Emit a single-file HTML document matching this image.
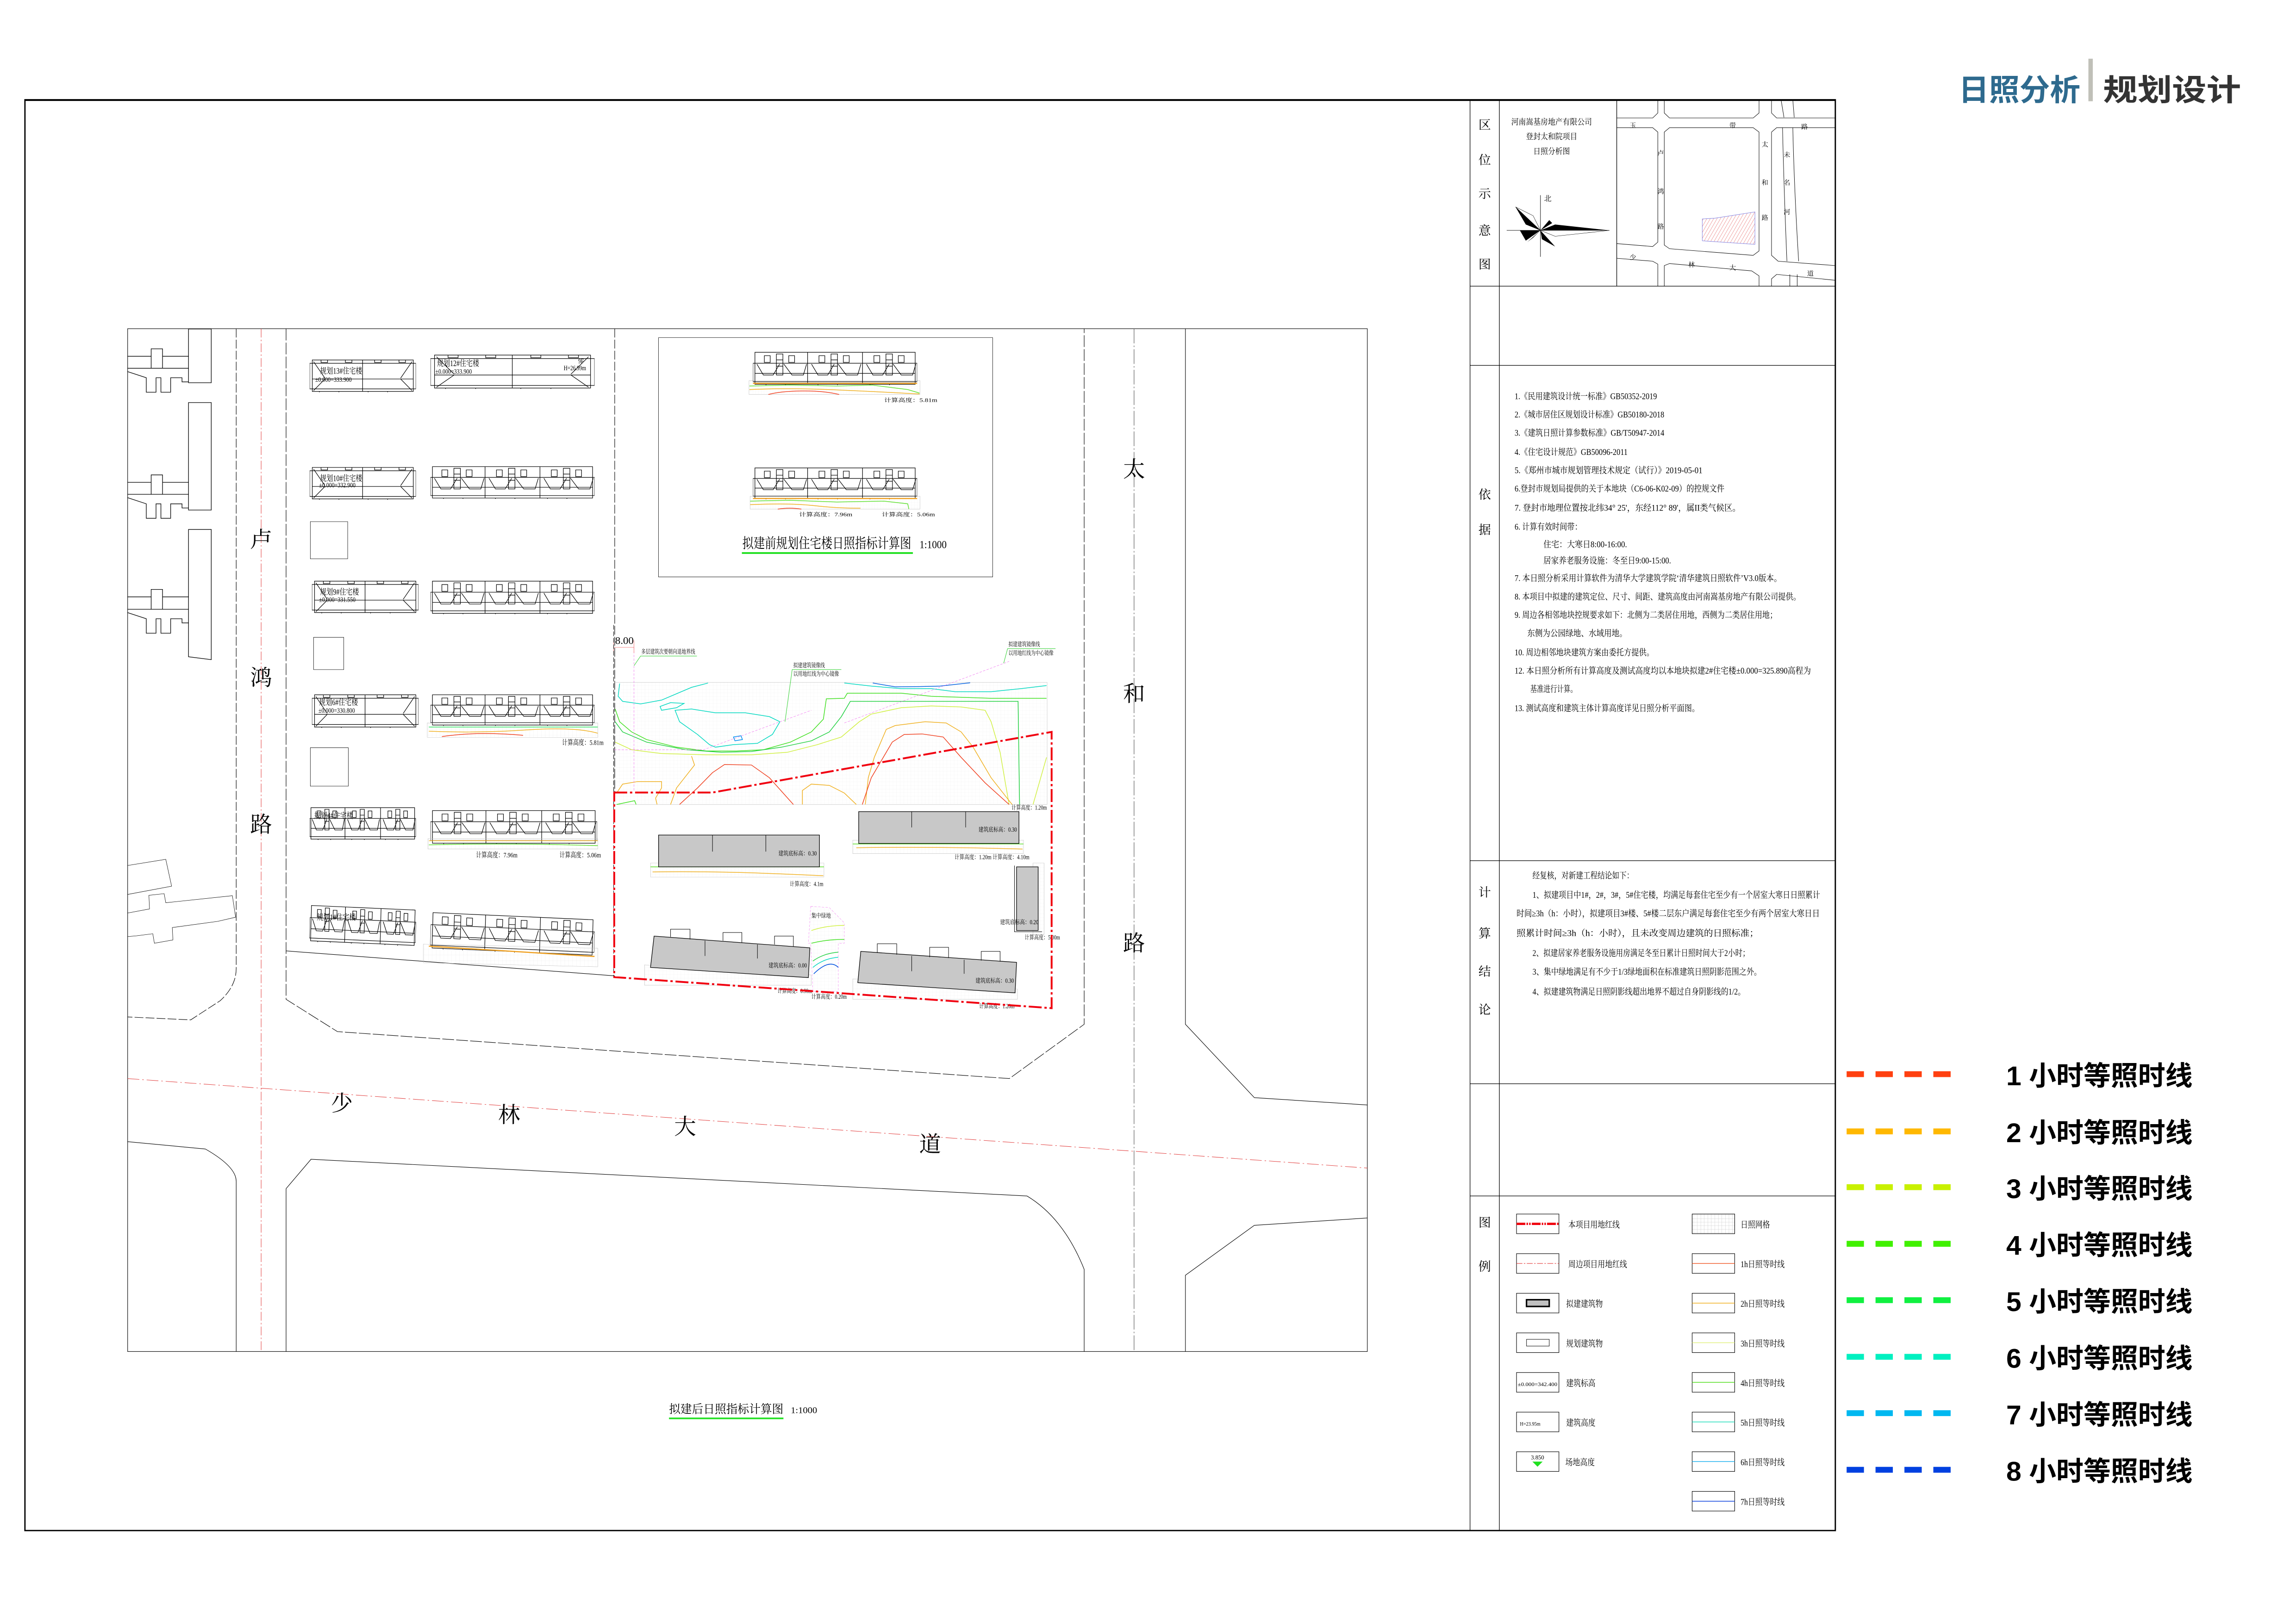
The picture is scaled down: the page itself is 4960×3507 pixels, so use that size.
<!DOCTYPE html>
<html><head><meta charset="utf-8">
<style>
html,body{margin:0;padding:0;background:#fff;}
svg{display:block;}
.s{font-family:"Liberation Serif","Noto Serif CJK SC",serif;}
.b{font-family:"Liberation Sans","Noto Sans CJK SC",sans-serif;font-weight:bold;}
</style></head>
<body>
<svg width="4960" height="3507" viewBox="0 0 1565 1106" preserveAspectRatio="none" xmlns="http://www.w3.org/2000/svg">
<defs>
<pattern id="g" patternUnits="userSpaceOnUse" width="2.4" height="2.4">
<path d="M0 0H2.4M0 0V2.4" stroke="#c8c8c8" stroke-width="0.3" fill="none"/>
</pattern>
<pattern id="gz" patternUnits="userSpaceOnUse" width="12" height="14">
<path d="M0 0H12M0 0V14" stroke="#c8c8c8" stroke-width="1" fill="none" vector-effect="non-scaling-stroke"/>
</pattern>
<pattern id="hatch" patternUnits="userSpaceOnUse" width="2" height="2" patternTransform="rotate(30)"><line x1="0" y1="0" x2="0" y2="2" stroke="#e04040" stroke-width="0.3"/></pattern>
<symbol id="fb" viewBox="0 0 505 80" preserveAspectRatio="none">
<g fill="none" stroke="#000" stroke-width="1.2" vector-effect="non-scaling-stroke">
<rect x="6" y="2" width="493" height="76" vector-effect="non-scaling-stroke"/>
<rect x="0" y="28" width="505" height="44" vector-effect="non-scaling-stroke"/>
<path d="M168 2V78M337 2V78M6 52H499" vector-effect="non-scaling-stroke"/>
<path d="M35 10h18v16h-18zM110 10h18v16h-18zM72 6h20v50h-20zM72 20h20M72 35h20M12 30l20 26h30l20-26M95 30l25 26h35l10-26" vector-effect="non-scaling-stroke"/>
<path d="M203 10h18v16h-18zM278 10h18v16h-18zM240 6h20v50h-20zM240 20h20M240 35h20M180 30l20 26h30l20-26M262 30l25 26h35l10-26" vector-effect="non-scaling-stroke"/>
<path d="M372 10h18v16h-18zM447 10h18v16h-18zM409 6h20v50h-20zM409 20h20M409 35h20M349 30l20 26h30l20-26M431 30l25 26h35l10-26" vector-effect="non-scaling-stroke"/>
<path d="M40 78v5h60v-5M200 78v5h60v-5M360 78v5h60v-5" vector-effect="non-scaling-stroke"/>
</g></symbol>
<symbol id="sb" viewBox="0 0 327 80" preserveAspectRatio="none">
<g fill="none" stroke="#000" stroke-width="1.2">
<rect x="0" y="10" width="327" height="62" vector-effect="non-scaling-stroke"/>
<rect x="8" y="2" width="311" height="76" vector-effect="non-scaling-stroke"/>
<path d="M163 2V78M8 48H319M12 6l35 40M315 6l-35 40M12 76l35-28M315 76l-35-28M35 2v6h20v-6M110 2v6h20v-6M200 2v6h20v-6M275 2v6h20v-6" vector-effect="non-scaling-stroke"/>
<path d="M30 78v5h60v-5M180 78v5h60v-5" vector-effect="non-scaling-stroke"/>
</g></symbol>
</defs>

<!-- Title -->
<text x="1335" y="68.5" class="b" font-size="20.5" fill="#2e6a8e" textLength="83" lengthAdjust="spacingAndGlyphs">日照分析</text>
<rect x="1423.5" y="40" width="3" height="29" fill="#c0c0b8"/>
<text x="1433.5" y="68.5" class="b" font-size="20.5" fill="#333" textLength="94" lengthAdjust="spacingAndGlyphs">规划设计</text>

<!-- Frame -->
<rect x="17" y="68" width="1234" height="975" fill="none" stroke="#000" stroke-width="0.9"/>
<line x1="17" y1="68.2" x2="1251" y2="68.2" stroke="#000" stroke-width="1.2"/>
<line x1="1002" y1="68" x2="1002" y2="1043" stroke="#000" stroke-width="0.4"/>
<line x1="1022" y1="68" x2="1022" y2="1043" stroke="#000" stroke-width="0.4"/>
<g stroke="#000" stroke-width="0.4">
<line x1="1002" y1="195" x2="1251" y2="195"/>
<line x1="1002" y1="249" x2="1251" y2="249"/>
<line x1="1002" y1="586.5" x2="1251" y2="586.5"/>
<line x1="1002" y1="738.5" x2="1251" y2="738.5"/>
<line x1="1002" y1="815" x2="1251" y2="815"/>
<line x1="1102" y1="68" x2="1102" y2="195"/>
</g>

<!-- Panel side labels -->
<g class="s" font-size="8.5" fill="#000" text-anchor="middle">
<text x="1012" y="88">区</text><text x="1012" y="112">位</text><text x="1012" y="135">示</text><text x="1012" y="160">意</text><text x="1012" y="183">图</text>
<text x="1012" y="340">依</text><text x="1012" y="364">据</text>
<text x="1012" y="611">计</text><text x="1012" y="639">算</text><text x="1012" y="665">结</text><text x="1012" y="691">论</text>
<text x="1012" y="836">图</text><text x="1012" y="866">例</text>
</g>

<!-- Location info -->
<g class="s" font-size="5.6" fill="#000" text-anchor="middle">
<text x="1057.6" y="85" textLength="55" lengthAdjust="spacingAndGlyphs">河南嵩基房地产有限公司</text>
<text x="1057.6" y="95" textLength="35" lengthAdjust="spacingAndGlyphs">登封太和院项目</text>
<text x="1057.6" y="105" textLength="25" lengthAdjust="spacingAndGlyphs">日照分析图</text>
<text x="1055" y="137" font-size="5">北</text>
</g>
<g>
<line x1="1050" y1="133" x2="1050" y2="175" stroke="#000" stroke-width="0.3"/>
<line x1="1027" y1="157" x2="1097" y2="157" stroke="#000" stroke-width="0.3"/>
<polygon points="1050,157 1033,141 1040,153" fill="#000"/>
<polygon points="1050,157 1033,141 1045,147" fill="#fff" stroke="#000" stroke-width="0.2"/>
<polygon points="1050,157 1097,157 1060,153" fill="#000"/>
<polygon points="1050,157 1097,157 1060,161" fill="#fff" stroke="#000" stroke-width="0.2"/>
<polygon points="1050,157 1060,168 1051,163" fill="#000"/>
<polygon points="1050,157 1040,164 1036,157" fill="#000"/>
<polygon points="1050,157 1056,150 1058,152" fill="#000"/>
<polygon points="1050,157 1041,165 1045,162" fill="#000"/>
</g>
<!-- Location map -->
<g fill="none" stroke="#000" stroke-width="0.3">
<path d="M1102 80.4H1126.5L1130 77V68M1134.4 68V77L1138 80.4H1195L1199 77V68M1207.5 68V77L1211 80.4H1251"/>
<path d="M1102 87H1126.5L1130 90V165L1126.5 168L1102 166"/>
<path d="M1134.4 90L1138 87H1195L1199 90V171L1195 174L1138 169.5L1134.4 167Z"/>
<path d="M1102 176L1126.5 178L1130 180V195M1134.4 195V181L1138 179.6L1194 184.6L1199 188V195"/>
<path d="M1207.5 90L1211 87H1251M1207.5 90V174L1212 178L1251 181M1207.5 195V190L1211 187L1251 191"/>
<path d="M1214 68L1216 80M1222 68L1223 80M1215 87Q1216 130 1218 178M1222 87Q1223 130 1226 178M1220 187V195M1225 187V195"/>
</g>
<polygon points="1160.3,149.2 1168.9,148.7 1196.2,144.4 1196.2,166.5 1160.3,164.1" fill="url(#hatch)" stroke="#8080e0" stroke-width="0.3"/>
<g class="s" font-size="4.5" fill="#000" text-anchor="middle">
<text x="1113" y="87">玉</text><text x="1181" y="87">带</text><text x="1230" y="88">路</text>
<text x="1132" y="106">卢</text><text x="1132" y="132">鸿</text><text x="1132" y="156">路</text>
<text x="1203" y="100">太</text><text x="1203" y="126">和</text><text x="1203" y="150">路</text>
<text x="1218" y="107">未</text><text x="1218" y="126">名</text><text x="1218" y="146">河</text>
<text x="1113" y="177">少</text><text x="1153" y="182">林</text><text x="1181" y="184">大</text><text x="1234" y="188">道</text>
</g>

<!-- 依据 text -->
<g class="s" font-size="6" fill="#000">
<text x="1032.4" y="272" textLength="97" lengthAdjust="spacingAndGlyphs">1.《民用建筑设计统一标准》GB50352-2019</text>
<text x="1032.4" y="284.5" textLength="102" lengthAdjust="spacingAndGlyphs">2.《城市居住区规划设计标准》GB50180-2018</text>
<text x="1032.4" y="297" textLength="102" lengthAdjust="spacingAndGlyphs">3.《建筑日照计算参数标准》GB/T50947-2014</text>
<text x="1032.4" y="310" textLength="77" lengthAdjust="spacingAndGlyphs">4.《住宅设计规范》GB50096-2011</text>
<text x="1032.4" y="322.5" textLength="128" lengthAdjust="spacingAndGlyphs">5.《郑州市城市规划管理技术规定（试行）》2019-05-01</text>
<text x="1032.4" y="335" textLength="143" lengthAdjust="spacingAndGlyphs">6.登封市规划局提供的关于本地块（C6-06-K02-09）的控规文件</text>
<text x="1032.4" y="348" textLength="154" lengthAdjust="spacingAndGlyphs">7. 登封市地理位置按北纬34° 25'，东经112° 89'，属II类气候区。</text>
<text x="1032.4" y="361" textLength="46" lengthAdjust="spacingAndGlyphs">6. 计算有效时间带：</text>
<text x="1052" y="373" textLength="57" lengthAdjust="spacingAndGlyphs">住宅：大寒日8:00-16:00.</text>
<text x="1052" y="384" textLength="87" lengthAdjust="spacingAndGlyphs">居家养老服务设施：冬至日9:00-15:00.</text>
<text x="1032.4" y="396" textLength="182" lengthAdjust="spacingAndGlyphs">7. 本日照分析采用计算软件为清华大学建筑学院‘清华建筑日照软件’V3.0版本。</text>
<text x="1032.4" y="408.5" textLength="195" lengthAdjust="spacingAndGlyphs">8. 本项目中拟建的建筑定位、尺寸、间距、建筑高度由河南嵩基房地产有限公司提供。</text>
<text x="1032.4" y="421" textLength="179" lengthAdjust="spacingAndGlyphs">9. 周边各相邻地块控规要求如下：北侧为二类居住用地，西侧为二类居住用地；</text>
<text x="1041" y="433.5" textLength="68" lengthAdjust="spacingAndGlyphs">东侧为公园绿地、水域用地。</text>
<text x="1032.4" y="446.5" textLength="95" lengthAdjust="spacingAndGlyphs">10. 周边相邻地块建筑方案由委托方提供。</text>
<text x="1032.4" y="459" textLength="202" lengthAdjust="spacingAndGlyphs">12. 本日照分析所有计算高度及测试高度均以本地块拟建2#住宅楼±0.000=325.890高程为</text>
<text x="1043" y="471.5" textLength="32" lengthAdjust="spacingAndGlyphs">基准进行计算。</text>
<text x="1032.4" y="484.5" textLength="126" lengthAdjust="spacingAndGlyphs">13. 测试高度和建筑主体计算高度详见日照分析平面图。</text>
</g>
<!-- 计算结论 text -->
<g class="s" font-size="6" fill="#000">
<text x="1044.6" y="598.5" textLength="69" lengthAdjust="spacingAndGlyphs">经复核，对新建工程结论如下：</text>
<text x="1044.6" y="611.8" textLength="196" lengthAdjust="spacingAndGlyphs">1、拟建项目中1#，2#，3#，5#住宅楼，均满足每套住宅至少有一个居室大寒日日照累计</text>
<text x="1033.7" y="624.5" textLength="206.7" lengthAdjust="spacingAndGlyphs">时间≥3h（h：小时），拟建项目3#楼、5#楼二层东户满足每套住宅至少有两个居室大寒日日</text>
<text x="1033.7" y="637.9" textLength="165" lengthAdjust="spacingAndGlyphs">照累计时间≥3h（h：小时），且未改变周边建筑的日照标准；</text>
<text x="1044.6" y="651.4" textLength="148" lengthAdjust="spacingAndGlyphs">2、拟建居家养老服务设施用房满足冬至日累计日照时间大于2小时；</text>
<text x="1044.6" y="664.2" textLength="156" lengthAdjust="spacingAndGlyphs">3、集中绿地满足有不少于1/3绿地面积在标准建筑日照阴影范围之外。</text>
<text x="1044.6" y="677.8" textLength="145" lengthAdjust="spacingAndGlyphs">4、拟建建筑物满足日照阴影线超出地界不超过自身阴影线的1/2。</text>
</g>

<!-- Panel legend -->
<g fill="#fff" stroke="#000" stroke-width="0.35">
<rect x="1033.7" y="827.3" width="28.9" height="13.4"/>
<rect x="1033.7" y="854.3" width="28.9" height="13.4"/>
<rect x="1033.7" y="881.3" width="28.9" height="13.4"/>
<rect x="1033.7" y="908.3" width="28.9" height="13.4"/>
<rect x="1033.7" y="935.3" width="28.9" height="13.4"/>
<rect x="1033.7" y="962.3" width="28.9" height="13.4"/>
<rect x="1033.7" y="989.3" width="28.9" height="13.4"/>
<rect x="1153.4" y="827.3" width="29" height="13.4" fill="url(#g)"/>
<rect x="1153.4" y="854.3" width="29" height="13.4"/>
<rect x="1153.4" y="881.3" width="29" height="13.4"/>
<rect x="1153.4" y="908.3" width="29" height="13.4"/>
<rect x="1153.4" y="935.3" width="29" height="13.4"/>
<rect x="1153.4" y="962.3" width="29" height="13.4"/>
<rect x="1153.4" y="989.3" width="29" height="13.4"/>
<rect x="1153.4" y="1016.3" width="29" height="13.4"/>
</g>
<line x1="1033.7" y1="834" x2="1062.6" y2="834" stroke="#f00010" stroke-width="1.6" stroke-dasharray="6 0.8 1 0.8 1 0.8"/>
<line x1="1033.7" y1="861" x2="1062.6" y2="861" stroke="#e02020" stroke-width="0.3" stroke-dasharray="4 1 1 1"/>
<rect x="1040.5" y="885.7" width="15.5" height="4.6" fill="#c0c0c0" stroke="#000" stroke-width="1"/>
<rect x="1040.5" y="912.7" width="15.5" height="4.6" fill="#fff" stroke="#000" stroke-width="0.3"/>
<text x="1034.5" y="944.5" class="s" font-size="3.5" textLength="27" lengthAdjust="spacingAndGlyphs">±0.000=342.400</text>
<text x="1036" y="971.5" class="s" font-size="3.5" textLength="14" lengthAdjust="spacingAndGlyphs">H=23.95m</text>
<text x="1048" y="994.5" class="s" font-size="4" text-anchor="middle">3.850</text>
<polygon points="1044.5,996 1051.5,996 1048,999.5" fill="#20e020"/>
<g stroke-width="0.5">
<line x1="1153.4" y1="861" x2="1182.4" y2="861" stroke="#f06030"/>
<line x1="1153.4" y1="888" x2="1182.4" y2="888" stroke="#f0b020"/>
<line x1="1153.4" y1="915" x2="1182.4" y2="915" stroke="#e0f080"/>
<line x1="1153.4" y1="942" x2="1182.4" y2="942" stroke="#60e030"/>
<line x1="1153.4" y1="969" x2="1182.4" y2="969" stroke="#30e0c0"/>
<line x1="1153.4" y1="996" x2="1182.4" y2="996" stroke="#30b8f0"/>
<line x1="1153.4" y1="1023" x2="1182.4" y2="1023" stroke="#2050e0"/>
</g>
<g class="s" font-size="6" fill="#000">
<text x="1069" y="836.5" textLength="35" lengthAdjust="spacingAndGlyphs">本项目用地红线</text>
<text x="1069" y="863.5" textLength="40" lengthAdjust="spacingAndGlyphs">周边项目用地红线</text>
<text x="1067.5" y="890.5" textLength="25" lengthAdjust="spacingAndGlyphs">拟建建筑物</text>
<text x="1067.5" y="917.5" textLength="25" lengthAdjust="spacingAndGlyphs">规划建筑物</text>
<text x="1067.5" y="944.5" textLength="20" lengthAdjust="spacingAndGlyphs">建筑标高</text>
<text x="1067.5" y="971.5" textLength="20" lengthAdjust="spacingAndGlyphs">建筑高度</text>
<text x="1067" y="998.5" textLength="20" lengthAdjust="spacingAndGlyphs">场地高度</text>
<text x="1186.4" y="836.5" textLength="20" lengthAdjust="spacingAndGlyphs">日照网格</text>
<text x="1186.4" y="863.5" textLength="30" lengthAdjust="spacingAndGlyphs">1h日照等时线</text>
<text x="1186.4" y="890.5" textLength="30" lengthAdjust="spacingAndGlyphs">2h日照等时线</text>
<text x="1186.4" y="917.5" textLength="30" lengthAdjust="spacingAndGlyphs">3h日照等时线</text>
<text x="1186.4" y="944.5" textLength="30" lengthAdjust="spacingAndGlyphs">4h日照等时线</text>
<text x="1186.4" y="971.5" textLength="30" lengthAdjust="spacingAndGlyphs">5h日照等时线</text>
<text x="1186.4" y="998.5" textLength="30" lengthAdjust="spacingAndGlyphs">6h日照等时线</text>
<text x="1186.4" y="1025.5" textLength="30" lengthAdjust="spacingAndGlyphs">7h日照等时线</text>
</g>

<!-- Right legend -->
<g stroke-width="4" stroke-dasharray="11.8 7.9">
<line x1="1258.7" y1="732" x2="1335" y2="732" stroke="#ff4010"/>
<line x1="1258.7" y1="771" x2="1335" y2="771" stroke="#ffb800"/>
<line x1="1258.7" y1="809" x2="1335" y2="809" stroke="#c8f000"/>
<line x1="1258.7" y1="847.6" x2="1335" y2="847.6" stroke="#40f000"/>
<line x1="1258.7" y1="886" x2="1335" y2="886" stroke="#10f040"/>
<line x1="1258.7" y1="924.6" x2="1335" y2="924.6" stroke="#00f0c0"/>
<line x1="1258.7" y1="963" x2="1335" y2="963" stroke="#00b8f0"/>
<line x1="1258.7" y1="1001.6" x2="1335" y2="1001.6" stroke="#0040e0"/>
</g>
<g class="b" font-size="18.5" fill="#000">
<text x="1367.5" y="739.5" textLength="127" lengthAdjust="spacingAndGlyphs">1 小时等照时线</text>
<text x="1367.5" y="778.3" textLength="127" lengthAdjust="spacingAndGlyphs">2 小时等照时线</text>
<text x="1367.5" y="816.5" textLength="127" lengthAdjust="spacingAndGlyphs">3 小时等照时线</text>
<text x="1367.5" y="855" textLength="127" lengthAdjust="spacingAndGlyphs">4 小时等照时线</text>
<text x="1367.5" y="893.5" textLength="127" lengthAdjust="spacingAndGlyphs">5 小时等照时线</text>
<text x="1367.5" y="932" textLength="127" lengthAdjust="spacingAndGlyphs">6 小时等照时线</text>
<text x="1367.5" y="970.5" textLength="127" lengthAdjust="spacingAndGlyphs">7 小时等照时线</text>
<text x="1367.5" y="1009" textLength="127" lengthAdjust="spacingAndGlyphs">8 小时等照时线</text>
</g>

<!-- Drawing area -->
<rect x="87" y="224" width="845" height="697" fill="none" stroke="#000" stroke-width="0.35"/>
<g fill="none" stroke="#000" stroke-width="0.35">
<path d="M161 224V660Q161 672 150 682L130 695L87 693" stroke-dasharray="6 1.5"/>
<path d="M87 778L140 783Q161 795 161 805V921"/>
<path d="M195 224V681L230 703L688 735L739 698V224" stroke-dasharray="8 1.5"/>
<path d="M195 921V810L212 790L700 815Q725 830 739 865V921"/>
<path d="M808 224V698L855 748L932 753"/>
<path d="M932 830L855 835L808 869V921"/>
<path d="M419 224V540" stroke-dasharray="6 1.5"/>
<path d="M195 648L419 665"/>
</g>
<line x1="178" y1="224" x2="178" y2="921" stroke="#e03030" stroke-width="0.3" stroke-dasharray="6 1.5 1 1.5"/>
<line x1="773" y1="224" x2="773" y2="921" stroke="#555" stroke-width="0.35" stroke-dasharray="10 1.5 1 1.5"/>
<line x1="87" y1="735" x2="932" y2="796" stroke="#e03030" stroke-width="0.3" stroke-dasharray="8 2 1 2"/>

<g class="s" font-size="15" fill="#000" text-anchor="middle">
<text x="178" y="373">卢</text><text x="178" y="467">鸿</text><text x="178" y="567">路</text>
<text x="773" y="325">太</text><text x="773" y="478">和</text><text x="773" y="648">路</text>
<text x="233" y="757">少</text><text x="347" y="765">林</text><text x="467" y="773">大</text><text x="634" y="785">道</text>
</g>

<!-- Left part (z8 coords) -->
<g transform="translate(82,220.8) scale(0.2214,0.2817)">
<g fill="none" stroke="#000" stroke-width="1.3" vector-effect="non-scaling-stroke">
<rect x="210" y="12" width="70" height="130" vector-effect="non-scaling-stroke"/>
<rect x="210" y="190" width="70" height="260" vector-effect="non-scaling-stroke"/>
<path d="M210 497H280V812L210 805Z" vector-effect="non-scaling-stroke"/>
<path d="M22 78H95V60H130V78H210M22 107H210M22 115L80 130V165H110V130H125V165H155V130H190V140H210M95 78V107H130V78" vector-effect="non-scaling-stroke"/>
<path d="M22 383H95V365H130V383H210M22 412H210M22 420L80 435V470H110V435H125V470H155V435H190V445H210M95 383V412H130V383" vector-effect="non-scaling-stroke"/>
<path d="M22 660H95V642H130V660H210M22 690H210M22 698L80 713V748H110V713H125V748H155V713H190V723H210M95 660V690H130V660" vector-effect="non-scaling-stroke"/>
<path d="M22 1310L140 1295L158 1360L22 1380M22 1425L90 1415L88 1382L135 1378L140 1400L345 1383L355 1435L300 1445L160 1460L162 1490L105 1498L100 1475L50 1480L22 1482" stroke-width="0.8" vector-effect="non-scaling-stroke"/>
<rect x="585" y="478" width="115" height="90" stroke-width="0.8" vector-effect="non-scaling-stroke"/>
<rect x="595" y="758" width="93" height="78" stroke-width="0.8" vector-effect="non-scaling-stroke"/>
<rect x="585" y="1025" width="117" height="93" stroke-width="0.8" vector-effect="non-scaling-stroke"/>
</g>
<use href="#sb" x="583" y="85" width="327" height="80"/>
<use href="#sb" x="955" y="73" width="505" height="84"/>
<use href="#sb" x="583" y="345" width="327" height="80"/>
<use href="#fb" x="955" y="343" width="505" height="80"/>
<use href="#sb" x="590" y="620" width="328" height="80"/>
<use href="#fb" x="955" y="620" width="505" height="82"/>
<use href="#sb" x="590" y="895" width="328" height="82"/>
<use href="#fb" x="955" y="895" width="505" height="77"/>
<use href="#fb" x="583" y="1168" width="327" height="80"/>
<use href="#fb" x="955" y="1175" width="513" height="83"/>
<g transform="rotate(2 750 1460)"><use href="#fb" x="583" y="1410" width="327" height="90"/></g>
<g transform="rotate(2 1200 1480)"><use href="#fb" x="955" y="1430" width="505" height="90"/></g>
<rect x="945" y="965" width="525" height="35" fill="url(#gz)" stroke="#bbb" stroke-width="0.6" vector-effect="non-scaling-stroke"/>
<rect x="947" y="1245" width="523" height="25" fill="url(#gz)" stroke="#bbb" stroke-width="0.6" vector-effect="non-scaling-stroke"/>
<polygon points="933,1500 1470,1510 1470,1555 933,1545" fill="url(#gz)" stroke="#bbb" stroke-width="0.6" vector-effect="non-scaling-stroke"/>
<g fill="none" stroke-width="1.5">
<path d="M950 975H1470" stroke="#30e060" vector-effect="non-scaling-stroke"/>
<path d="M950 985Q1100 990 1250 982T1470 990" stroke="#f0b020" vector-effect="non-scaling-stroke"/>
<path d="M990 998Q1100 985 1240 995" stroke="#f04020" vector-effect="non-scaling-stroke"/>
<path d="M950 1250H1470" stroke="#f0b020" vector-effect="non-scaling-stroke"/>
<path d="M950 1260Q1200 1255 1470 1262" stroke="#60e030" vector-effect="non-scaling-stroke"/>
<path d="M950 1505L1460 1530" stroke="#f0a020" stroke-width="2.5" vector-effect="non-scaling-stroke"/>
</g>
<g class="s" font-size="20" fill="#000">
<text x="615" y="120">规划13#住宅楼</text><text x="600" y="140" font-size="17">±0.000=333.900</text>
<text x="975" y="102">规划12#住宅楼</text><text x="970" y="120" font-size="17">±0.000=333.900</text>
<text x="1410" y="95" font-size="16">9F</text><text x="1365" y="112" font-size="16">H=26.99m</text>
<text x="615" y="380">规划10#住宅楼</text><text x="612" y="395" font-size="17">±0.000=332.900</text>
<text x="615" y="655">规划9#住宅楼</text><text x="612" y="672" font-size="17">±0.000=331.550</text>
<text x="612" y="922">规划6#住宅楼</text><text x="610" y="940" font-size="17">±0.000=330.800</text>
<text x="1360" y="1018" font-size="17">计算高度：5.81m</text>
<text x="597" y="1196">规划4#住宅楼</text>
<text x="1095" y="1290" font-size="17">计算高度：7.96m</text>
<text x="1352" y="1290" font-size="17">计算高度：5.06m</text>
<text x="605" y="1442">规划1#住宅楼</text>
</g>
</g>

<!-- Pre-build box (z9 coords) -->
<g transform="translate(441.6,220.8) scale(0.161,0.1207)">
<rect x="45" y="77" width="1415" height="1351" fill="none" stroke="#000" stroke-width="0.8" vector-effect="non-scaling-stroke"/>
<rect x="428" y="320" width="724" height="78" fill="url(#gz)" stroke="#bbb" stroke-width="0.6" vector-effect="non-scaling-stroke"/>
<rect x="433" y="972" width="719" height="73" fill="url(#gz)" stroke="#bbb" stroke-width="0.6" vector-effect="non-scaling-stroke"/>
<use href="#fb" x="445" y="155" width="695" height="190"/>
<use href="#fb" x="445" y="808" width="695" height="182"/>
<g fill="none" stroke-width="1.5">
<path d="M445 335H1140" stroke="#f0a020" stroke-width="2.5" vector-effect="non-scaling-stroke"/>
<path d="M430 350L600 345L800 350L950 345L1100 370L1150 390" stroke="#60e030" vector-effect="non-scaling-stroke"/>
<path d="M430 370Q600 360 800 372T1150 395" stroke="#f0b020" vector-effect="non-scaling-stroke"/>
<path d="M510 398Q560 380 650 378T810 398" stroke="#f04020" vector-effect="non-scaling-stroke"/>
<path d="M445 985H1140" stroke="#f0a020" stroke-width="2.5" vector-effect="non-scaling-stroke"/>
<path d="M433 1000L600 995L800 1005L1000 1000L1100 1015L1105 1045" stroke="#60e030" vector-effect="non-scaling-stroke"/>
<path d="M433 1020Q600 1010 700 1025T900 1040" stroke="#f0b020" vector-effect="non-scaling-stroke"/>
<path d="M550 1045Q600 1035 650 1045" stroke="#f04020" vector-effect="non-scaling-stroke"/>
</g>
<g class="s" font-size="30" fill="#000">
<text x="1000" y="440">计算高度：5.81m</text>
<text x="640" y="1085">计算高度：7.96m</text>
<text x="990" y="1085">计算高度：5.06m</text>
</g>
<text x="400" y="1265" class="s" font-size="80" textLength="715" lengthAdjust="spacingAndGlyphs">拟建前规划住宅楼日照指标计算图</text>
<text x="1150" y="1265" class="s" font-size="60" textLength="115" lengthAdjust="spacingAndGlyphs">1:1000</text>
<rect x="398" y="1288" width="724" height="10" fill="#20e020"/>
</g>

<!-- Site analysis (z4 coords) -->
<g transform="translate(410.1,425.9) scale(0.2042,0.1735)">
<rect x="42" y="225" width="1445" height="480" fill="url(#gz)" stroke="#bbb" stroke-width="0.6" vector-effect="non-scaling-stroke"/>
<g fill="none" stroke-width="1.5">
<path d="M60 230L55 280L70 300L130 310L200 295L300 245L355 228" stroke="#00d8c0" vector-effect="non-scaling-stroke"/>
<path d="M245 335L260 380L320 430L360 470L380 480L440 470L520 465L570 430L595 380L560 360L480 345L380 345L300 330Z" stroke="#00d8c0" vector-effect="non-scaling-stroke"/>
<path d="M195 320L230 305L275 308L250 325L200 335Z" stroke="#00d8c0" vector-effect="non-scaling-stroke"/>
<path d="M440 440L465 435L470 450L445 455Z" stroke="#0090f0" vector-effect="non-scaling-stroke"/>
<path d="M810 228L900 240L1000 250L1100 250L1180 262L1300 262L1400 250L1485 238" stroke="#00d8c0" vector-effect="non-scaling-stroke"/>
<path d="M905 228L980 243L1060 242L1130 240L1230 227" stroke="#0060e0" vector-effect="non-scaling-stroke"/>
<path d="M45 330L60 380L100 420L150 450L250 480L350 495L450 495L540 490L630 460L700 420L740 370L750 290L810 288L820 268L1000 268L1100 280L1300 288L1485 288" stroke="#40e020" vector-effect="non-scaling-stroke"/>
<path d="M45 380L70 420L150 460L280 490L400 500L500 497L600 480L700 455L760 420L800 360L830 300L1390 300L1395 705" stroke="#20d040" vector-effect="non-scaling-stroke"/>
<path d="M45 460L100 490L200 505L350 510L500 510L620 500L720 470L800 440L860 380L900 350L1000 325L1100 318L1200 322L1280 335L1300 380L1330 500L1360 705" stroke="#d0f040" vector-effect="non-scaling-stroke"/>
<path d="M1485 520L1440 705" stroke="#d0f040" vector-effect="non-scaling-stroke"/>
<path d="M300 515L310 550L290 580L250 640L230 705M185 705L180 680L200 640L200 615L120 615L70 625L50 660M880 705L890 600L910 520L950 410L980 395L1080 380L1150 385L1200 420L1240 480L1300 600L1370 705M670 705L670 650L700 625L760 630L810 660L850 705" stroke="#f0b020" vector-effect="non-scaling-stroke"/>
<path d="M260 705L320 640L370 580L410 548L500 550L560 600L640 705M870 705L900 600L940 520L970 460L1010 430L1070 428L1140 440L1200 520L1280 620L1360 705" stroke="#f04020" vector-effect="non-scaling-stroke"/>
<path d="M50 705L110 690L115 705" stroke="#40e020" vector-effect="non-scaling-stroke"/>
</g>
<g fill="none" stroke="#f070f0" stroke-width="0.8" stroke-dasharray="5 3">
<path d="M108 88V650M42 490H340L700 335M810 385L1360 143" vector-effect="non-scaling-stroke"/>
<path d="M40 88H108M40 60V110M108 60V110" stroke="#f06060" stroke-dasharray="none" vector-effect="non-scaling-stroke"/>
</g>
<path d="M40 0V1380" stroke="#000" stroke-width="1" stroke-dasharray="10 4" fill="none" vector-effect="non-scaling-stroke"/>
<g fill="none" stroke="#30d030" stroke-width="1" >
<path d="M108 160L130 122H318" vector-effect="non-scaling-stroke"/>
<path d="M612 380L636 175H800" vector-effect="non-scaling-stroke"/>
<path d="M1342 150L1355 93H1515" vector-effect="non-scaling-stroke"/>
</g>
<g class="s" font-size="24" fill="#000">
<text x="45" y="75" font-size="40" textLength="62" lengthAdjust="spacingAndGlyphs">8.00</text>
<text x="132" y="113" textLength="180" lengthAdjust="spacingAndGlyphs">多层建筑次要朝向退地界线</text>
<text x="640" y="166" textLength="105" lengthAdjust="spacingAndGlyphs">拟建建筑镜像线</text>
<text x="640" y="200" textLength="152" lengthAdjust="spacingAndGlyphs">以用地红线为中心镜像</text>
<text x="1358" y="84" textLength="105" lengthAdjust="spacingAndGlyphs">拟建建筑镜像线</text>
<text x="1358" y="118" textLength="150" lengthAdjust="spacingAndGlyphs">以用地红线为中心镜像</text>
</g>
<g fill="url(#gz)" stroke="#bbb" stroke-width="0.6">
<rect x="163" y="935" width="579" height="55" vector-effect="non-scaling-stroke"/>
<rect x="838" y="845" width="570" height="53" vector-effect="non-scaling-stroke"/>
<rect x="1440" y="935" width="37" height="280" vector-effect="non-scaling-stroke"/>
<polygon points="143,1335 700,1375 700,1415 143,1415" vector-effect="non-scaling-stroke"/>
<polygon points="838,1390 1388,1430 1388,1470 838,1470" vector-effect="non-scaling-stroke"/>
<path d="M698 1105L760 1110L810 1170V1250H790V1440H705L698 1250H690Z" stroke="#f070f0" stroke-dasharray="5 3" vector-effect="non-scaling-stroke"/>
</g>
<g fill="none" stroke-width="1.5">
<path d="M700 1200Q750 1180 810 1180" stroke="#d0f040" vector-effect="non-scaling-stroke"/>
<path d="M700 1250Q750 1235 810 1235" stroke="#40e020" vector-effect="non-scaling-stroke"/>
<path d="M705 1320Q740 1290 790 1285" stroke="#20d040" vector-effect="non-scaling-stroke"/>
<path d="M705 1345Q740 1310 790 1305" stroke="#00d8c0" vector-effect="non-scaling-stroke"/>
<path d="M708 1370Q760 1310 790 1345" stroke="#0050e0" vector-effect="non-scaling-stroke"/>
<path d="M163 950H742M838 860H1408" stroke="#60e030" vector-effect="non-scaling-stroke"/>
<path d="M170 970Q400 965 740 985" stroke="#f0b020" vector-effect="non-scaling-stroke"/>
<path d="M850 875Q1100 870 1405 880" stroke="#f0b020" vector-effect="non-scaling-stroke"/>
</g>
<g fill="#c8c8c8" stroke="#000" stroke-width="1.3">
<rect x="190" y="825" width="537" height="125" vector-effect="non-scaling-stroke"/>
<rect x="858" y="733" width="535" height="125" vector-effect="non-scaling-stroke"/>
<rect x="1385" y="950" width="72" height="250" vector-effect="non-scaling-stroke"/>
<polygon points="175,1222 695,1268 690,1385 163,1345" vector-effect="non-scaling-stroke"/>
<polygon points="865,1282 1385,1325 1380,1445 855,1405" vector-effect="non-scaling-stroke"/>
</g>
<g fill="none" stroke="#000" stroke-width="1">
<path d="M370 825V890M548 825V890M1035 733V795M1215 733V795M345 1240V1300M520 1255V1310M1035 1300V1360M1210 1315V1370" vector-effect="non-scaling-stroke"/>
<path d="M230 1225V1195H295V1235M405 1240V1208H468V1248M577 1255V1222H640V1262M920 1288V1252H985V1295M1095 1305V1266H1158V1308M1267 1318V1282H1330V1322" vector-effect="non-scaling-stroke"/>
<path d="M1378 945V1205H1470" vector-effect="non-scaling-stroke"/>
</g>
<g class="s" font-size="24" fill="#000">
<text x="590" y="905" textLength="128" lengthAdjust="spacingAndGlyphs">建筑底标高：0.30</text>
<text x="1258" y="812" textLength="128" lengthAdjust="spacingAndGlyphs">建筑底标高：0.30</text>
<text x="557" y="1345" textLength="128" lengthAdjust="spacingAndGlyphs">建筑底标高：0.00</text>
<text x="1248" y="1405" textLength="128" lengthAdjust="spacingAndGlyphs">建筑底标高：0.30</text>
<text x="1330" y="1175" textLength="128" lengthAdjust="spacingAndGlyphs">建筑底标高：0.20</text>
<text x="700" y="1150" textLength="65" lengthAdjust="spacingAndGlyphs">集中绿地</text>
<text x="1368" y="725" textLength="118" lengthAdjust="spacingAndGlyphs">计算高度：1.20m</text>
<text x="1178" y="920" textLength="250" lengthAdjust="spacingAndGlyphs">计算高度：1.20m 计算高度：4.10m</text>
<text x="628" y="1025" textLength="112" lengthAdjust="spacingAndGlyphs">计算高度：4.1m</text>
<text x="1412" y="1235" textLength="118" lengthAdjust="spacingAndGlyphs">计算高度：5.00m</text>
<text x="587" y="1445" textLength="115" lengthAdjust="spacingAndGlyphs">计算高度：0.90m</text>
<text x="700" y="1468" textLength="118" lengthAdjust="spacingAndGlyphs">计算高度：0.20m</text>
<text x="1260" y="1505" textLength="118" lengthAdjust="spacingAndGlyphs">计算高度：1.20m</text>
</g>
<path d="M42 658L370 658L1502 420V1505L42 1383Z" fill="none" stroke="#f00010" stroke-width="4" stroke-dasharray="28 6 5 6" vector-effect="non-scaling-stroke"/>
</g>

<!-- bottom title -->
<text x="456" y="963" class="s" font-size="8" textLength="78" lengthAdjust="spacingAndGlyphs">拟建后日照指标计算图</text>
<text x="539" y="963" class="s" font-size="6" textLength="18" lengthAdjust="spacingAndGlyphs">1:1000</text>
<rect x="456" y="966" width="78" height="1.1" fill="#20e020"/>
</svg>
</body></html>
